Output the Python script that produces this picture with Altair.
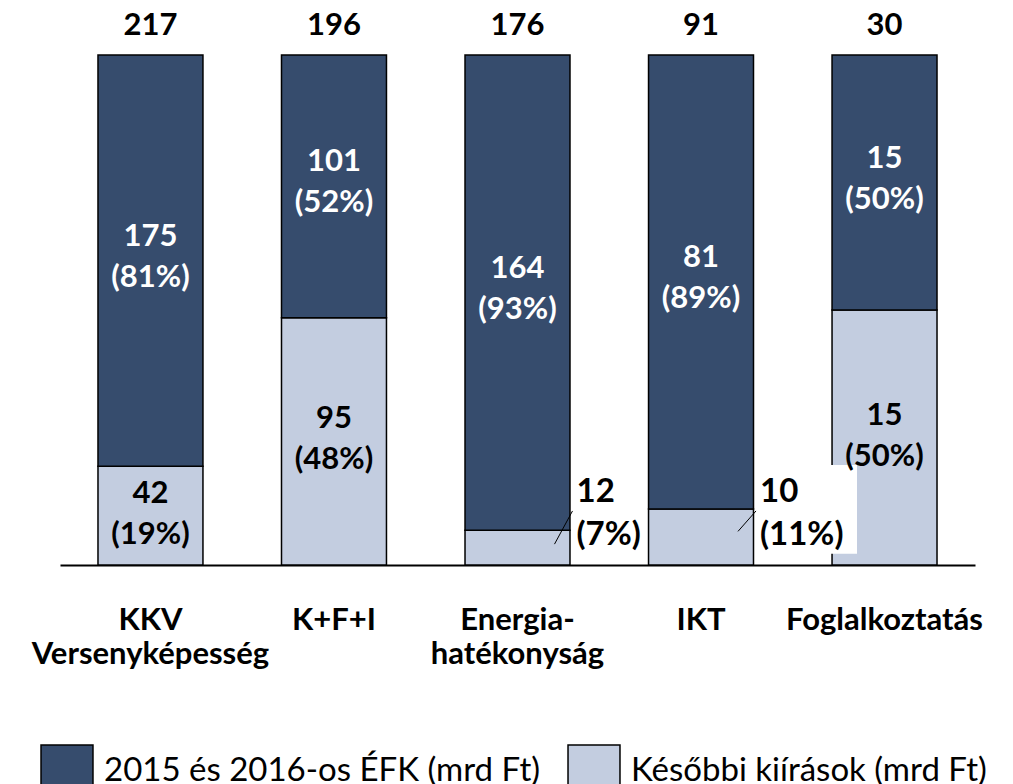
import altair as alt
import pandas as pd

categories = ["KKV Versenyképesség", "K+F+I", "Energia- hatékonyság", "IKT", "Foglalkoztatás"]
efk_values = [175, 101, 164, 81, 15]
later_values = [42, 95, 12, 10, 15]
totals = [217, 196, 176, 91, 30]
efk_pct = [81, 52, 93, 89, 50]
later_pct = [19, 48, 7, 11, 50]
series = ["2015 és 2016-os ÉFK (mrd Ft)", "Későbbi kiírások (mrd Ft)"]
colors = ["#364C6D", "#C3CDE0"]

FONT = "Lato"

rows = []
for c, e, l, t, ep, lp in zip(categories, efk_values, later_values, totals, efk_pct, later_pct):
    ls = l / t
    rows.append(dict(cat=c, series=series[1], y0=0.0, y1=ls, mid=ls / 2,
                     label=f"{l}\n({lp}%)", share=ls, total=t, small=ls < 0.15,
                     lead0=ls * 0.6, lead1=0.106, box0=0.022, box1=0.196))
    rows.append(dict(cat=c, series=series[0], y0=ls, y1=1.0, mid=(ls + 1) / 2,
                     label=f"{e}\n({ep}%)", share=1 - ls, total=t, small=False,
                     lead0=0.0, lead1=0.0, box0=0.0, box1=0.0))
df = pd.DataFrame(rows)

xs = alt.X("cat:N", sort=categories)
x = alt.X("cat:N", sort=categories,
          scale=alt.Scale(paddingInner=0.428, paddingOuter=0.207),
          axis=alt.Axis(title=None, labelExpr="split(datum.label, ' ')",
                        labelFont=FONT, labelFontWeight="bold", labelFontSize=31,
                        labelColor="black", labelAngle=0, labelPadding=40,
                        labelLineHeight=34, ticks=False, domainColor="black",
                        domainWidth=2, labelLimit=400))
yscale = alt.Scale(domain=[0, 1])

base = alt.Chart(df)

bars = base.mark_bar(stroke="black", strokeWidth=1.5).encode(
    x=x,
    y=alt.Y("y0:Q", scale=yscale, axis=None),
    y2="y1:Q",
    color=alt.Color("series:N", scale=alt.Scale(domain=series, range=colors),
                    legend=alt.Legend(title=None, orient="none", legendX=-20, legendY=689,
                                      direction="horizontal", symbolType="square",
                                      symbolSize=2700, symbolStrokeColor="black",
                                      symbolStrokeWidth=1.5, symbolOpacity=1,
                                      labelFont=FONT, labelFontSize=33, labelColor="black",
                                      labelLimit=800, labelOffset=10, columnPadding=24,
                                      padding=0)),
)

label_box = base.transform_filter("datum.small && datum.cat == 'IKT'").mark_rect(
    color="white", xOffset=55, x2Offset=156).encode(
    x=xs, x2="cat:N",
    y=alt.Y("box0:Q", scale=yscale), y2="box1:Q")

inside_dark = base.transform_filter(f"datum.series == '{series[0]}'").mark_text(
    font=FONT, fontWeight="bold", fontSize=31, lineBreak="\n", lineHeight=41,
    color="white", baseline="middle", dy=-24).encode(
    x=xs, y=alt.Y("mid:Q", scale=yscale), text="label:N")

inside_light = base.transform_filter(f"datum.series == '{series[1]}' && !datum.small").mark_text(
    font=FONT, fontWeight="bold", fontSize=31, lineBreak="\n", lineHeight=41,
    color="black", baseline="middle", dy=-22).encode(
    x=xs, y=alt.Y("mid:Q", scale=yscale), text="label:N")

outside = base.transform_filter("datum.small").mark_text(
    font=FONT, fontWeight="bold", fontSize=33, lineBreak="\n", lineHeight=43,
    color="black", align="left", baseline="alphabetic", dx=59, dy=-63).encode(
    x=xs, y=alt.Y("y0:Q", scale=yscale), text="label:N")

leaders = base.transform_filter("datum.small").mark_rule(
    color="black", strokeWidth=1, xOffset=37, x2Offset=55).encode(
    x=xs, x2="cat:N",
    y=alt.Y("lead0:Q", scale=yscale), y2="lead1:Q")

totals_text = base.transform_filter(f"datum.series == '{series[0]}'").mark_text(
    font=FONT, fontWeight="bold", fontSize=31, color="black",
    baseline="alphabetic", dy=-20).encode(
    x=xs, y=alt.Y("y1:Q", scale=yscale), text="total:Q")

chart = alt.layer(bars, label_box, inside_dark, inside_light, outside, leaders, totals_text).properties(
    width=915, height=510,
    autosize=alt.AutoSizeParams(type="none"),
    padding={"left": 52, "top": 47, "right": 30, "bottom": 219},
).configure_view(stroke=None)

chart.save("out.html", embed_options={"renderer": "svg", "actions": False})
